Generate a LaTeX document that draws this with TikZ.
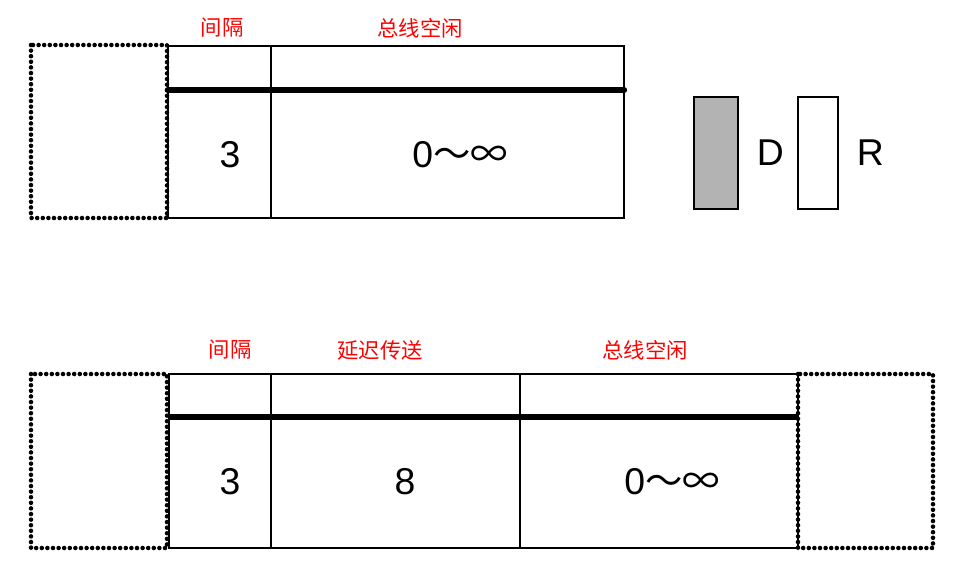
\documentclass[tikz,border=0pt]{standalone}
\usepackage{fontspec}
\setmainfont{Liberation Sans}
\newfontfamily\cjk{Noto Sans CJK SC}
\usetikzlibrary{positioning}
\definecolor{LabelRed}{RGB}{255,0,0}
\definecolor{BitGray}{RGB}{179,179,179}
\tikzset{
  dotbox/.style={draw=black,line width=3.4pt,line cap=round,
    dash pattern=on 0pt off 4.2pt},
  cellbox/.style={draw=black,line width=0.9pt},
  busline/.style={draw=black,line width=4.8pt,line cap=round},
  phaselabel/.style={text=LabelRed,font=\cjk\fontsize{16}{18}\selectfont},
  bitval/.style={font=\fontsize{28}{32}\selectfont},
  levelbox/.style={draw=black,line width=1.1pt,minimum width=31pt,
    minimum height=84pt,inner sep=0pt},
}

\begin{document}
\begin{tikzpicture}[x=0.75pt,y=-0.75pt]
  \useasboundingbox (0,0) rectangle (968,572);
  % upper frame: gap then bus idle
  \draw[dotbox] (31,45) rectangle (167,218);
  \draw[cellbox] (168,46) rectangle (624,218);
  \draw[cellbox] (271,46) -- (271,218);
  \draw[line width=2.2pt] (168,46) -- (168,218);
  \draw[busline] (168,90) -- (624,90);
  \node[phaselabel] (gapA) at (222,28) {间隔};
  \node[phaselabel] (idleA) at (420,28) {总线空闲};
  \node[bitval] (gapvalA) at (230,155) {3};
  \node[bitval] (idlevalA) at (460,155) {0{\cjk ～∞}};
  % dominant / recessive legend
  \node[levelbox,fill=BitGray,minimum width=33pt] (dom) at (716,153) {};
  \node[bitval,right=10pt of dom] (domtxt) {D};
  \node[levelbox,fill=white,minimum width=30pt] (rec) at (818,153) {};
  \node[bitval,right=10pt of rec] (rectxt) {R};
  % lower frame: gap, delayed transmit, bus idle
  \draw[dotbox] (31,374) rectangle (167,548);
  \draw[dotbox] (798,374) rectangle (933,548);
  \draw[cellbox] (169,374) rectangle (798,548);
  \draw[cellbox] (271,374) -- (271,548);
  \draw[line width=2.2pt] (520,374) -- (520,548);
  \draw[line width=1.6pt] (169,374) -- (169,548);
  \draw[line width=1.6pt] (169,548) -- (798,548);
  \draw[busline,line cap=butt] (169,417) -- (798,417);
  \node[phaselabel] (gapB) at (230,350) {间隔};
  \node[phaselabel] (delayB) at (380,350) {延迟传送};
  \node[phaselabel] (idleB) at (645,350) {总线空闲};
  \node[bitval] (gapvalB) at (230,482) {3};
  \node[bitval] (delayvalB) at (405,482) {8};
  \node[bitval] (idlevalB) at (672,482) {0{\cjk ～∞}};
\end{tikzpicture}
\end{document}
